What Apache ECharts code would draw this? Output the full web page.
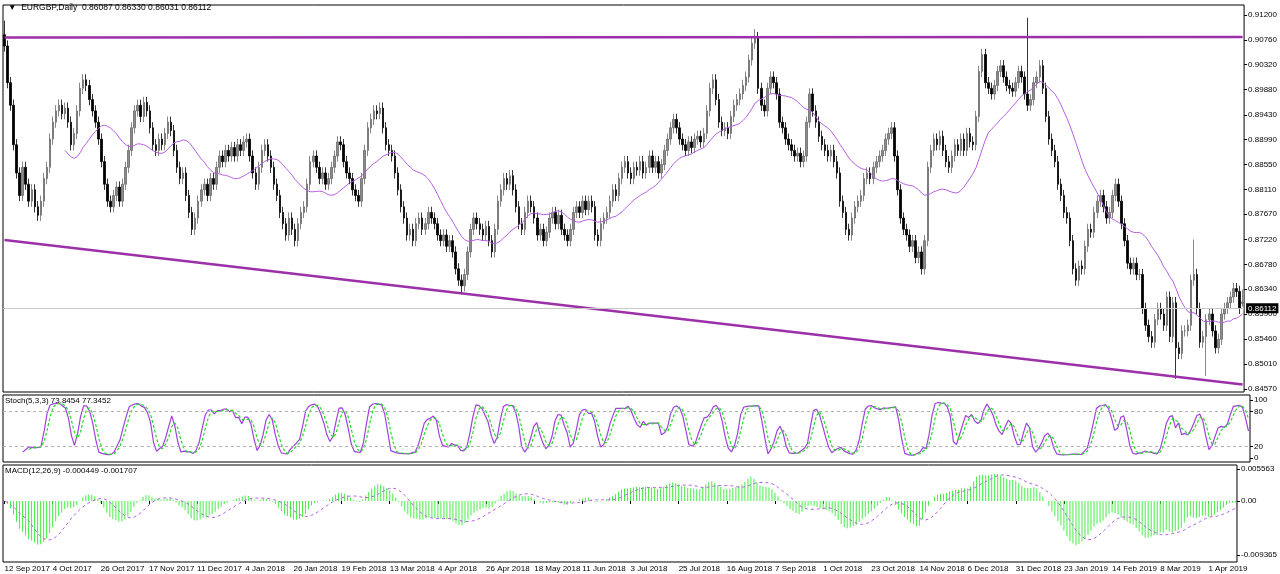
<!DOCTYPE html>
<html><head><meta charset="utf-8">
<script src="https://cdn.jsdelivr.net/npm/echarts@6/dist/echarts.min.js"></script>
<style>html,body{margin:0;padding:0;background:#fff}#c{width:1280px;height:574px}</style>
</head><body><div id="c"></div>
<script>
// closes (x 0.0001), one row = 10 daily bars
const closes = [
9065,9000,8960,8890,8840,8800,8850,8820,8790,8810,
8780,8765,8790,8830,8850,8900,8930,8950,8960,8945,
8955,8930,8890,8910,8950,8990,9005,8995,8970,8950,
8930,8900,8860,8820,8790,8780,8800,8815,8790,8820,
8850,8880,8920,8950,8960,8940,8965,8950,8920,8890,
8880,8900,8890,8910,8930,8915,8880,8850,8830,8840,
8800,8770,8740,8760,8790,8810,8820,8800,8830,8820,
8850,8870,8860,8880,8870,8885,8870,8890,8880,8895,
8900,8870,8840,8820,8850,8880,8890,8870,8850,8820,
8800,8770,8750,8730,8760,8740,8720,8750,8770,8780,
8820,8860,8870,8850,8830,8840,8820,8830,8850,8870,
8895,8890,8860,8840,8830,8810,8800,8790,8830,8880,
8920,8935,8950,8945,8955,8920,8890,8880,8870,8840,
8810,8780,8760,8730,8740,8720,8750,8760,8740,8750,
8770,8760,8750,8730,8720,8730,8710,8720,8700,8670,
8650,8640,8660,8700,8740,8760,8750,8740,8730,8745,
8720,8700,8740,8790,8810,8830,8820,8835,8810,8780,
8750,8740,8770,8790,8780,8760,8730,8740,8720,8735,
8760,8770,8750,8765,8740,8730,8720,8740,8770,8780,
8770,8790,8775,8790,8780,8730,8720,8750,8760,8770,
8790,8810,8800,8830,8850,8860,8840,8830,8850,8845,
8860,8840,8850,8870,8850,8860,8840,8855,8880,8900,
8920,8935,8920,8900,8890,8880,8895,8885,8900,8905,
8895,8910,8950,8990,9005,8970,8930,8915,8920,8910,
8940,8960,8970,8980,8995,9010,9040,9070,9080,8990,
8960,8950,8990,9010,9000,8980,8930,8920,8900,8890,
8880,8870,8875,8860,8870,8930,8980,8950,8930,8905,
8890,8880,8870,8880,8860,8840,8790,8770,8740,8730,
8760,8780,8790,8800,8830,8840,8830,8850,8860,8870,
8880,8900,8910,8920,8870,8810,8760,8740,8730,8710,
8720,8690,8700,8670,8720,8850,8880,8900,8890,8905,
8880,8860,8850,8870,8890,8880,8900,8880,8910,8895,
8890,8940,9020,9050,9000,8990,8980,8995,9020,9030,
9010,8995,8990,8985,9000,9020,9010,8980,8960,8970,
9000,9010,9030,8990,8940,8900,8880,8860,8820,8800,
8770,8760,8720,8670,8650,8675,8670,8710,8740,8735,
8770,8790,8800,8780,8760,8770,8800,8820,8790,8750,
8720,8680,8670,8680,8660,8660,8600,8570,8550,8540,
8580,8600,8590,8570,8620,8550,8610,8530,8520,8560,
8560,8570,8650,8660,8600,8540,8550,8580,8590,8560,
8530,8545,8590,8600,8610,8620,8635,8630,8600,8611
];
const spikeIdx = [248, 338, 151, 387, 397, 393, 0];
const spikeVal = [0.9095, 0.9115, 0.8625, 0.8475, 0.8480, 0.8722, 0.9110];
const lastBar = [0.86087, 0.86112, 0.86031, 0.86330]; // O C L H
const dateLabels = ['12 Sep 2017','4 Oct 2017','26 Oct 2017','17 Nov 2017','11 Dec 2017','4 Jan 2018','26 Jan 2018','19 Feb 2018','13 Mar 2018','4 Apr 2018','26 Apr 2018','18 May 2018','11 Jun 2018','3 Jul 2018','25 Jul 2018','16 Aug 2018','7 Sep 2018','1 Oct 2018','23 Oct 2018','14 Nov 2018','6 Dec 2018','31 Dec 2018','23 Jan 2019','14 Feb 2019','8 Mar 2019','1 Apr 2019'];
const priceTicks = [0.91200,0.90760,0.90320,0.89880,0.89430,0.88990,0.88550,0.88110,0.87670,0.87220,0.86780,0.86340,0.85900,0.85460,0.85010,0.84570];
const resistance = [0.9080, 0.9081];
const support = [0.8721, 0.8465];

const N = closes.length;
const C = closes.map(v => v / 10000);
const O = C.map((c, i) => i ? C[i - 1] : 0.9085);
const H = C.map((c, i) => Math.max(c, O[i]) + 0.0010);
const L = C.map((c, i) => Math.min(c, O[i]) - 0.0010);
spikeIdx.forEach((k, j) => { const v = spikeVal[j]; if (v > C[k]) H[k] = Math.max(H[k], v); else L[k] = Math.min(L[k], v); });
C[N-1]=lastBar[1];O[N-1]=lastBar[0];L[N-1]=lastBar[2];H[N-1]=lastBar[3];
const cats = C.map((_, i) => i);
const candle = C.map((c, i) => [O[i], c, L[i], H[i]]);
const ma = C.map((_, i) => { if (i < 20) return '-'; let s = 0; for (let k = i - 20; k <= i; k++) s += C[k]; return s / 21; });
const num = [], den = [];
for (let i = 0; i < N; i++) { const a = Math.max(0, i - 4); let hh = -1, ll = 9; for (let k = a; k <= i; k++) { hh = Math.max(hh, H[k]); ll = Math.min(ll, L[k]); } num.push(C[i] - ll); den.push(hh - ll); }
const K = num.map((_, i) => { if (i < 6) return '-'; let a = 0, b = 0; for (let k = i - 2; k <= i; k++) { a += num[k]; b += den[k]; } return b ? 100 * a / b : 50; });
const D = K.map((_, i) => (i < 8) ? '-' : (K[i] + K[i - 1] + K[i - 2]) / 3);
const ema = (p) => { const k = 2 / (p + 1); let e = C[0]; return C.map(c => (e = c * k + e * (1 - k))); };
const e12 = ema(12), e26 = ema(26);
const macd = C.map((_, i) => e12[i] - e26[i]);
const sig = macd.map((_, i) => { const a = Math.max(0, i - 8); let s = 0; for (let k = a; k <= i; k++) s += macd[k]; return s / (i - a + 1); });

const F = 'Liberation Sans, Arial, sans-serif';
const lab = { fontSize: 8, color: '#000', fontFamily: F };
const GL = 3, GR = 30;
const xBase = { type: 'category', data: cats, boundaryGap: true, axisLine: { show: false }, axisTick: { show: false }, axisLabel: { show: false }, splitLine: { show: false } };
const chart = echarts.init(document.getElementById('c'));
chart.setOption({
  animation: false,
  grid: [
    { left: GL, right: GR, top: 5, height: 387, show: true, borderColor: '#000', borderWidth: 1 },
    { left: GL, right: GR, top: 395, height: 67, show: true, borderColor: '#000', borderWidth: 1 },
    { left: GL, right: GR, top: 465, height: 97, show: true, borderColor: '#000', borderWidth: 1 }
  ],
  xAxis: [
    Object.assign({}, xBase, { gridIndex: 0 }),
    Object.assign({}, xBase, { gridIndex: 1 }),
    Object.assign({}, xBase, { gridIndex: 2, axisTick: { show: true, alignWithLabel: true, length: 3, lineStyle: { color: '#000' }, interval: (i) => i % 16 === 0 },
      axisLabel: { show: true, showMinLabel: true, hideOverlap: false, interval: (i) => i % 16 === 0, formatter: (v) => dateLabels[v / 16] || '', align: 'left', margin: 3, ...lab } })
  ],
  yAxis: [
    { gridIndex: 0, position: 'right', min: 0.84517, max: 0.91377, splitLine: { show: false }, axisLine: { show: false },
      axisTick: { show: true, length: 3, lineStyle: { color: '#000' }, customValues: priceTicks },
      axisLabel: { ...lab, margin: 4, customValues: priceTicks, formatter: v => v.toFixed(5) } },
    { gridIndex: 1, position: 'right', min: -6.9, max: 108.6, splitLine: { show: false }, axisLine: { show: false },
      axisTick: { show: true, length: 3, lineStyle: { color: '#000' }, customValues: [0, 20, 80, 100] },
      axisLabel: { ...lab, margin: 4, customValues: [0, 20, 80, 100] } },
    { gridIndex: 2, position: 'right', min: -0.0106, max: 0.00626, splitLine: { show: false }, axisLine: { show: false },
      axisTick: { show: true, length: 3, lineStyle: { color: '#000' }, customValues: [0.005563, 0, -0.009365] },
      axisLabel: { ...lab, margin: 4, customValues: [0.005563, 0, -0.009365], formatter: v => v === 0 ? '0.00' : v.toFixed(6) } }
  ],
  series: [
    { type: 'candlestick', xAxisIndex: 0, yAxisIndex: 0, data: candle, barWidth: 2,
      itemStyle: { color: '#8c8c8c', color0: '#000000', borderColor: '#6a6a6a', borderColor0: '#000000', borderWidth: 0.8 },
      markLine: { symbol: 'none', silent: true, data: [
        [{ coord: [0, resistance[0]], lineStyle: { color: '#9b30a8', width: 2.5, type: 'solid' } }, { coord: [N - 1, resistance[1]] }],
        [{ coord: [0, support[0]], lineStyle: { color: '#9b30a8', width: 2.5, type: 'solid' } }, { coord: [N - 1, support[1]] }],
        { yAxis: lastBar[1], lineStyle: { color: '#c8c8c8', width: 1, type: 'solid' },
          label: { show: true, position: 'end', formatter: lastBar[1].toFixed(5), backgroundColor: '#000', color: '#fff', fontSize: 8, fontFamily: F, padding: [1, 2], distance: 2 } }
      ], label: { show: false } } },
    { type: 'line', xAxisIndex: 0, yAxisIndex: 0, data: ma, symbol: 'none', lineStyle: { color: '#b45ee0', width: 1 } },
    { type: 'line', xAxisIndex: 1, yAxisIndex: 1, data: K, symbol: 'none', lineStyle: { color: '#a040e0', width: 1.2 },
      markLine: { symbol: 'none', silent: true, label: { show: false }, lineStyle: { color: '#b0b0b0', type: [3, 3], width: 1 }, data: [{ yAxis: 20 }, { yAxis: 80 }] } },
    { type: 'line', xAxisIndex: 1, yAxisIndex: 1, data: D, symbol: 'none', lineStyle: { color: '#22dd22', width: 1.2, type: [3, 2] } },
    { type: 'bar', xAxisIndex: 2, yAxisIndex: 2, data: macd, barWidth: 1, itemStyle: { color: '#44ee44' } },
    { type: 'line', xAxisIndex: 2, yAxisIndex: 2, data: sig, symbol: 'none', lineStyle: { color: '#b060e0', width: 1, type: [3, 3] } }
  ],
  graphic: [
    { type: 'text', left: 8, top: 3, style: { text: '▼  EURGBP,Daily  0.86087 0.86330 0.86031 0.86112', fontSize: 8.5, fontFamily: F, fill: '#000' } },
    { type: 'text', left: 5, top: 397, style: { text: 'Stoch(5,3,3) 73.8454 77.3452', fontSize: 8, fontFamily: F, fill: '#000' } },
    { type: 'text', left: 5, top: 467, style: { text: 'MACD(12,26,9) -0.000449 -0.001707', fontSize: 8, fontFamily: F, fill: '#000' } }
  ]
});
</script></body></html>
